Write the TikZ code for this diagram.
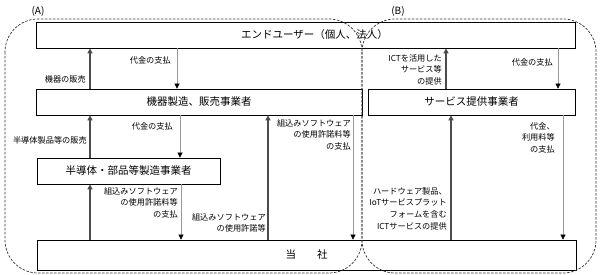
\documentclass[tikz,border=0pt]{standalone}
\usepackage{fontspec}
\setmainfont{Noto Sans CJK JP}
\usetikzlibrary{arrows.meta}
\begin{document}
\begin{tikzpicture}[x=1pt,y=-1pt,
  box/.style={draw=black, line width=0.7pt, fill=white, minimum height=26pt, inner sep=0pt, font=\fontsize{10.5}{12}\selectfont},
  lbl/.style={font=\fontsize{8.2}{11.8}\selectfont, inner sep=0pt, align=right},
  upar/.style={draw=black!70, line width=1.3pt, -{Triangle[width=5pt,length=5pt]}},
  dnar/.style={draw=black!40, line width=0.5pt, -{Triangle[width=5pt,length=5pt,color=black]}},
  region/.style={draw=black!80, line width=0.7pt, dash pattern=on 2.5pt off 1.5pt, rounded corners=33pt},
  tag/.style={font=\fontsize{10}{11}\selectfont, inner sep=0pt}
]
\useasboundingbox (0,0) rectangle (600,275);

% boxes
\node[box, minimum width=539pt] (eu) at (305.5,35) {\hspace*{18pt}エンドユーザー（個人、法人）};
\node[box, minimum width=326pt] (mm) at (199,102) {機器製造、販売事業者};
\node[box, minimum width=207pt] (sp) at (471.5,102) {サービス提供事業者};
\node[box, minimum width=183pt] (semi) at (128.5,171) {半導体・部品等製造事業者};
\node[box, minimum width=539pt, minimum height=30pt] (co) at (306.5,255) {当\hspace{21pt}社};

% arrows A side
\draw[upar] (90,0 |- mm.north) -- (90,0 |- eu.south);
\draw[dnar] (177,0 |- eu.south) -- (177,0 |- mm.north);
\draw[upar] (90,0 |- semi.north) -- (90,0 |- mm.south);
\draw[dnar] (180,0 |- mm.south) -- (180,0 |- semi.north);
\draw[upar] (268,0 |- co.north) -- (268,0 |- mm.south);
\draw[dnar] (353,0 |- mm.south) -- (353,0 |- co.north);
\draw[upar] (90,0 |- co.north) -- (90,0 |- semi.south);
\draw[dnar] (181,0 |- semi.south) -- (181,0 |- co.north);

% arrows B side
\draw[upar] (446,0 |- sp.north) -- (446,0 |- eu.south);
\draw[dnar] (558,0 |- eu.south) -- (558,0 |- sp.north);
\draw[upar] (451,0 |- co.north) -- (451,0 |- sp.south);
\draw[dnar] (563,0 |- sp.south) -- (563,0 |- co.north);

% labels
\node[lbl, anchor=east] (l1) at (86,79) {機器の販売};
\node[lbl, anchor=east] (l2) at (171,60) {代金の支払};
\node[lbl, anchor=east] (l3) at (87,140) {半導体製品等の販売};
\node[lbl, anchor=east] (l4) at (173,126) {代金の支払};
\node[lbl, anchor=north east] (l5) at (351,119) {組込みソフトウェア\\の使用許諾料等\\の支払};
\node[lbl, anchor=north east] (l6) at (178,187) {組込みソフトウェア\\の使用許諾料等\\の支払};
\node[lbl, anchor=north east] (l7) at (266,213) {組込みソフトウェア\\の使用許諾等};
\node[lbl, anchor=north east] (l8) at (442,54) {ICTを活用した\\サービス等\\の提供};
\node[lbl, anchor=east] (l9) at (553,62) {代金の支払};
\node[lbl, anchor=north east] (l10) at (447,187) {ハードウェア製品、\\IoTサービスプラット\\フォームを含む\\ICTサービスの提供};
\node[lbl, anchor=north east] (l11) at (555,122) {代金、\\利用料等\\の支払};

% regions
\draw[region] (5,19) rectangle (362,273);
\draw[region] (362,19) rectangle (596,273);
\node[tag] (ta) at (38,11) {(A)};
\node[tag] (tb) at (398,11) {(B)};
\end{tikzpicture}
\end{document}
